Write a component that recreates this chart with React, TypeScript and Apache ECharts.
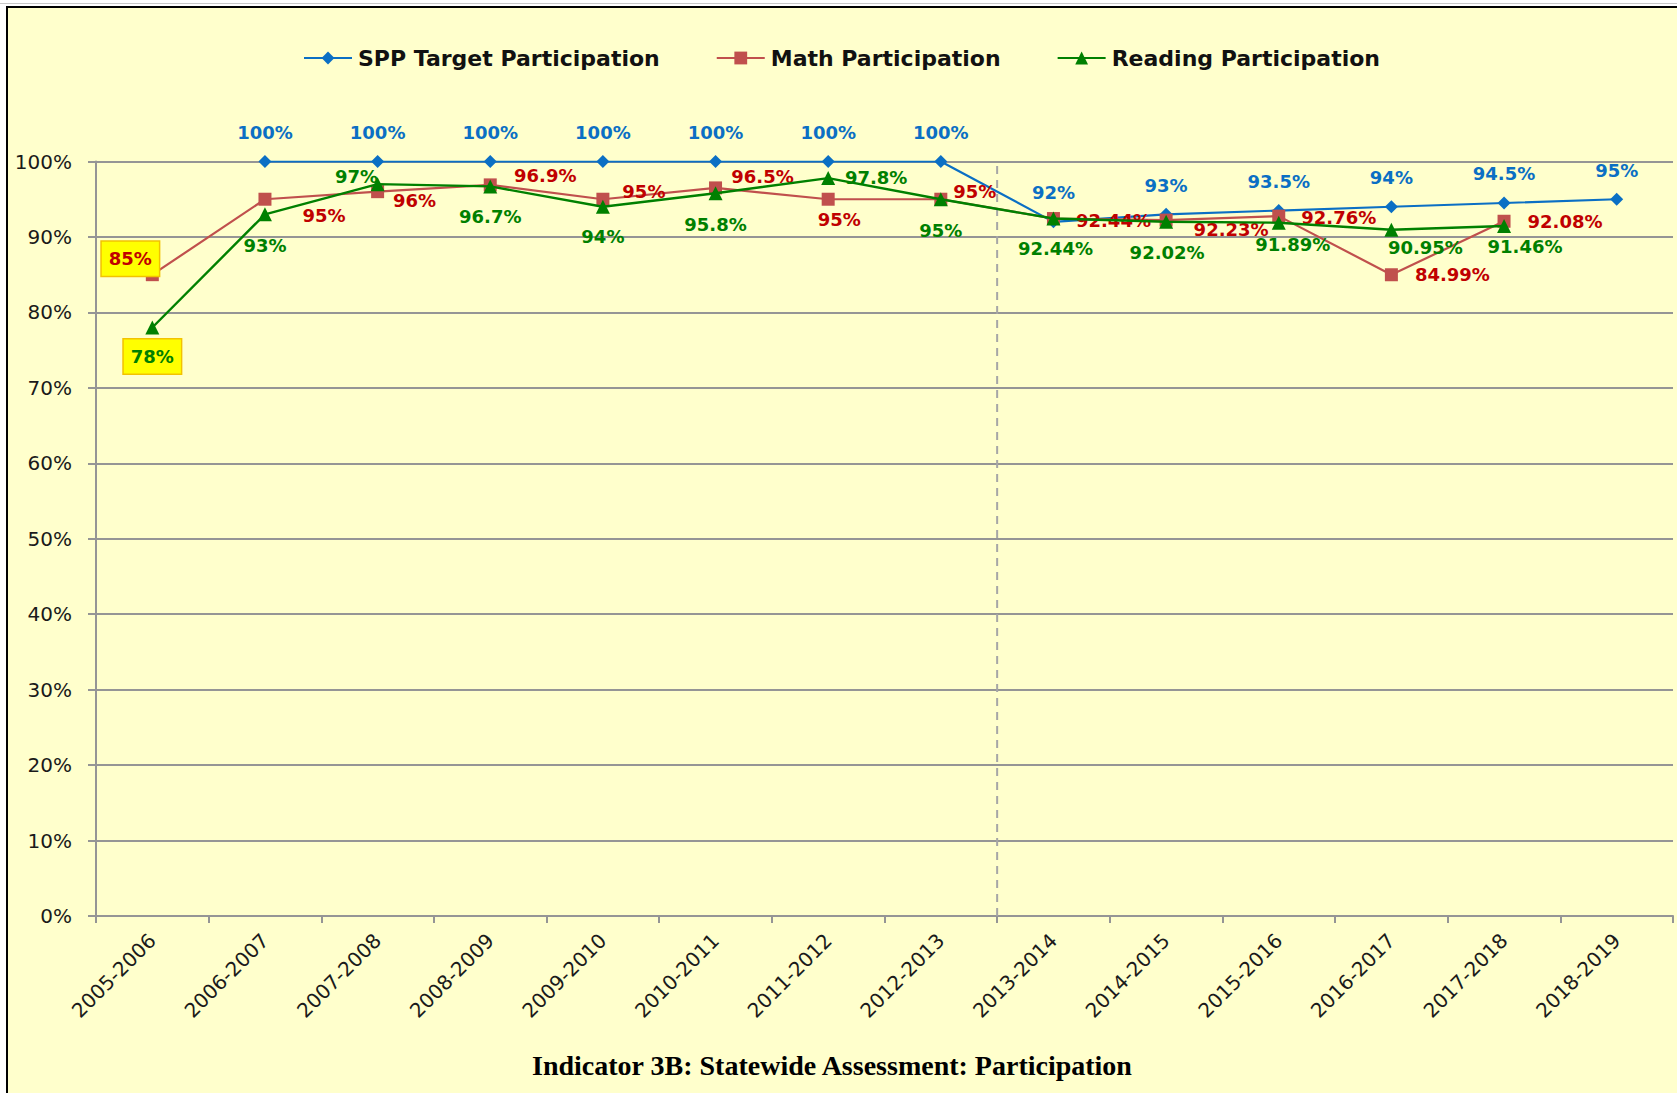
import React, { useEffect, useRef } from "react";
import * as echarts from "echarts";

const categories = [
  "2005-2006", "2006-2007", "2007-2008", "2008-2009", "2009-2010", "2010-2011", "2011-2012",
  "2012-2013", "2013-2014", "2014-2015", "2015-2016", "2016-2017", "2017-2018", "2018-2019",
];
const sppTarget: (number | null)[] = [null, 100, 100, 100, 100, 100, 100, 100, 92, 93, 93.5, 94, 94.5, 95];
const mathParticipation: (number | null)[] = [85, 95, 96, 96.9, 95, 96.5, 95, 95, 92.44, 92.23, 92.76, 84.99, 92.08, null];
const readingParticipation: (number | null)[] = [78, 93, 97, 96.7, 94, 95.8, 97.8, 95, 92.44, 92.02, 91.89, 90.95, 91.46, null];
const yTicks = [0, 10, 20, 30, 40, 50, 60, 70, 80, 90, 100];

// label placement (layout only)
const sppLabelOffsets = categories.map(() => [0, -29]);
const mathLabelOffsets = [[-22, -16], [59, 16], [37, 9], [55, -9], [41, -8], [47, -11], [11, 20], [34, -8], [60, 2], [65, 9], [60, 1], [61, 0], [61, 0], [0, 0]];
const readingLabelOffsets = [[0, 29], [0, 31], [-21, -8], [0, 30], [0, 30], [0, 31], [48, -1], [0, 31], [2, 30], [1, 31], [14, 22], [34, 18], [21, 21], [0, 0]];
const highlighted = [0];

const BLUE = "#0B6FC4";
const RED_LINE = "#C0504D";
const RED_TEXT = "#C00000";
const GREEN = "#008000";
const GRID = "#959595";

function buildData(values: (number | null)[], offsets: number[][], allowHighlight: boolean) {
  return values.map((v, i) => {
    if (v === null) return null;
    const hl = allowHighlight && highlighted.includes(i);
    return {
      value: v,
      label: {
        position: "inside",
        offset: offsets[i],
        ...(hl
          ? {
              backgroundColor: "#FFFF00",
              borderColor: "#F2C200",
              borderWidth: 1.5,
              padding: [8, 7],
              lineHeight: 18,
            }
          : {}),
      },
    };
  });
}

export default function App() {
  const ref = useRef<HTMLDivElement>(null);
  useEffect(() => {
    if (!ref.current) return;
    const chart = echarts.init(ref.current, undefined, { renderer: "svg" });
    const labelBase = (color: string) => ({
      show: true,
      color,
      fontFamily: "DejaVu Sans",
      fontWeight: "bold",
      fontSize: 18,
      formatter: (p: any) => `${p.value}%`,
    });
    chart.setOption({
      animation: false,
      backgroundColor: "transparent",
      legend: {
        data: ["SPP Target Participation", "Math Participation", "Reading Participation"],
        left: 298,
        top: 42,
        itemWidth: 48,
        itemHeight: 16,
        itemGap: 56,
        textStyle: {
          fontFamily: "DejaVu Sans",
          fontWeight: "bold",
          fontSize: 22,
          color: "#111",
          padding: [0, 0, 0, 1],
        },
      },
      grid: { left: 96, right: 4, top: 161.5, bottom: 177, containLabel: false },
      xAxis: [
        {
          type: "category",
          data: categories,
          boundaryGap: true,
          axisLine: { lineStyle: { color: GRID, width: 2 } },
          axisTick: { show: true, interval: 0, length: 7, lineStyle: { color: GRID, width: 2 } },
          axisLabel: {
            interval: 0,
            rotate: 45,
            margin: 21,
            fontFamily: "DejaVu Sans",
            fontSize: 20,
            color: "#1a1a1a",
          },
        },
        { type: "value", min: 0, max: 14, show: false },
      ],
      yAxis: {
        type: "value",
        min: 0,
        max: 100,
        interval: 10,
        axisLine: { show: true, lineStyle: { color: GRID, width: 2 } },
        axisTick: { show: true, length: 8, lineStyle: { color: GRID, width: 2 } },
        splitLine: { lineStyle: { color: GRID, width: 2 } },
        axisLabel: {
          margin: 24,
          fontFamily: "DejaVu Sans",
          fontSize: 20,
          color: "#1a1a1a",
          formatter: (v: number) => (yTicks.includes(v) ? `${v}%` : ""),
        },
      },
      graphic: [
        {
          type: "text",
          x: 832,
          y: 1065,
          style: {
            text: "Indicator 3B: Statewide Assessment: Participation",
            fontFamily: "Liberation Serif",
            fontWeight: "bold",
            fontSize: 28,
            fill: "#000",
            align: "center",
            verticalAlign: "middle",
          },
        },
      ],
      series: [
        {
          name: "divider",
          type: "line",
          xAxisIndex: 1,
          data: [[8, 0], [8, 100]],
          symbol: "none",
          silent: true,
          z: 1,
          lineStyle: { color: "#A6A6A6", width: 2, type: [8, 6] },
        },
        {
          name: "SPP Target Participation",
          type: "line",
          data: buildData(sppTarget, sppLabelOffsets, false),
          symbol: "diamond",
          symbolSize: 13,
          itemStyle: { color: BLUE },
          lineStyle: { color: BLUE, width: 2.2 },
          label: labelBase(BLUE),
          z: 3,
        },
        {
          name: "Math Participation",
          type: "line",
          data: buildData(mathParticipation, mathLabelOffsets, true),
          symbol: "rect",
          symbolSize: 13,
          itemStyle: { color: RED_LINE },
          lineStyle: { color: RED_LINE, width: 2.2 },
          label: labelBase(RED_TEXT),
          z: 4,
        },
        {
          name: "Reading Participation",
          type: "line",
          data: buildData(readingParticipation, readingLabelOffsets, true),
          symbol: "triangle",
          symbolSize: 14,
          itemStyle: { color: GREEN },
          lineStyle: { color: GREEN, width: 2.4 },
          label: labelBase(GREEN),
          z: 5,
        },
      ],
    });
    return () => chart.dispose();
  }, []);

  return (
    <div style={{ position: "absolute", left: 0, top: 0, width: 1677, height: 1093, background: "#fff", overflow: "hidden" }}>
      <div style={{ position: "absolute", left: 0, top: 3, width: 1677, height: 1, background: "#C8C8C8" }} />
      <div
        style={{
          position: "absolute",
          left: 6,
          top: 6,
          width: 1690,
          height: 1100,
          background: "#FFFFCC",
          borderLeft: "2.5px solid #000",
          borderTop: "2.5px solid #000",
        }}
      />
      <div ref={ref} style={{ position: "absolute", left: 0, top: 0, width: 1677, height: 1093 }} />
    </div>
  );
}
